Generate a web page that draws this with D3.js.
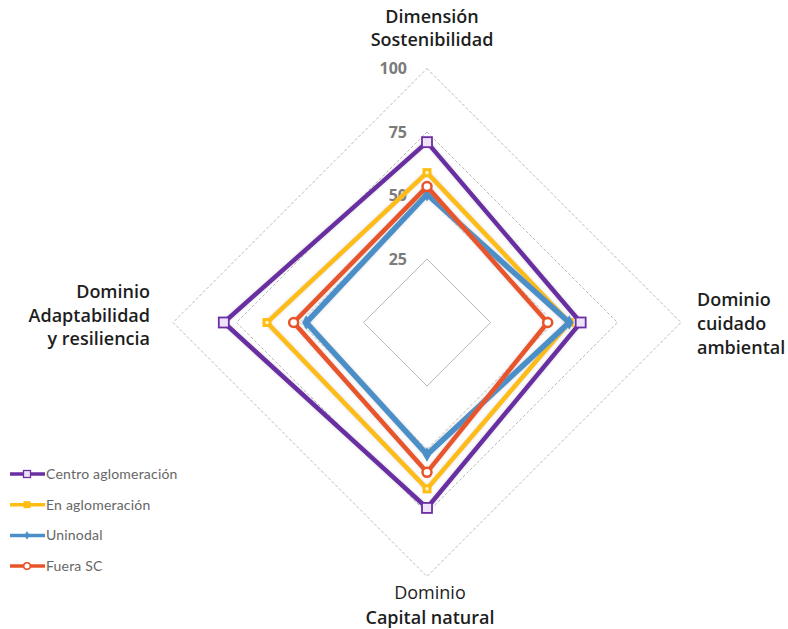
<!DOCTYPE html>
<html>
<head>
<meta charset="utf-8">
<script src="https://cdn.jsdelivr.net/npm/d3@7"></script>
<style>
  body { margin: 0; background: #fff; }
  svg { font-family: "Open Sans", "Noto Sans", sans-serif; }
</style>
</head>
<body>
<svg id="chart"></svg>
<script>
// axes, clockwise from top
const axes = [
  ["Dimensión", "Sostenibilidad"],
  ["Dominio", "cuidado", "ambiental"],
  ["Dominio", "Capital natural"],
  ["Dominio", "Adaptabilidad", "y resiliencia"]
]
const ticks = [25, 50, 75, 100]
const seriesNames = ["Centro aglomeración", "En aglomeración", "Uninodal", "Fuera SC"]
const centro = [71, 60.5, 73, 80]
const enAglo = [59, 56, 65.5, 63]
const uninodal = [50.5, 56, 52, 47.5]
const fuera = [53.5, 47.5, 59, 52.5]
const colors = ["#6b2fa3", "#fdbd13", "#4c8fc8", "#e8542a"]

const width = 788, height = 629
const cx = 427, cy = 322.5
const svg = d3.select("#chart").attr("width", width).attr("height", height)

const r = d3.scaleLinear().domain([0, 100]).range([0, 254])
const angle = i => i * Math.PI / 2 - Math.PI / 2
function pt(v, i) {
  return [cx + r(v) * Math.cos(angle(i)), cy + r(v) * Math.sin(angle(i))]
}

const defs = svg.append("defs")
const f = defs.append("filter").attr("id", "glow").attr("x", "-10%").attr("y", "-10%").attr("width", "120%").attr("height", "120%")
f.append("feDropShadow").attr("dx", 0).attr("dy", 0).attr("stdDeviation", 1.6)
  .attr("flood-color", "#999").attr("flood-opacity", 0.4)

// grid
const grid = svg.append("g")
ticks.forEach(t => {
  grid.append("polygon")
    .attr("points", axes.map((a, i) => pt(t, i).join(",")).join(" "))
    .attr("fill", "none")
    .attr("stroke", "#b9b9b9")
    .attr("stroke-width", 1)
    .attr("stroke-dasharray", t == 25 ? null : "3,2")
})

// tick labels
grid.selectAll("text")
  .data(ticks)
  .enter()
  .append("text")
  .attr("x", cx - 20)
  .attr("y", d => cy - r(d))
  .attr("dy", "0.35em")
  .attr("text-anchor", "end")
  .attr("fill", "#7b7b7b")
  .attr("font-size", 16)
  .attr("font-weight", "bold")
  .text(d => d)

// series: line then markers, one series at a time
const data = [centro, enAglo, uninodal, fuera]
const line = d3.line().curve(d3.curveLinearClosed)
const sg = svg.append("g")
data.forEach((vals, k) => {
  const pts = vals.map((v, i) => pt(v, i))
  const g = sg.append("g")
  g.append("path")
    .attr("d", line(pts))
    .attr("fill", "none")
    .attr("stroke", colors[k])
    .attr("stroke-width", k == 2 ? 5.5 : 4.5)
    .attr("stroke-linejoin", "miter")
    .attr("filter", "url(#glow)")
  pts.forEach(p => drawMarker(g, k, p))
})

function drawMarker(g, k, p) {
  if (k == 0) {
    g.append("rect").attr("x", p[0] - 5).attr("y", p[1] - 5).attr("width", 10).attr("height", 10)
      .attr("fill", "#efe3fa").attr("stroke", colors[0]).attr("stroke-width", 1.8)
  } else if (k == 1) {
    g.append("rect").attr("x", p[0] - 4.5).attr("y", p[1] - 4.5).attr("width", 9).attr("height", 9)
      .attr("fill", colors[1])
    g.append("circle").attr("cx", p[0]).attr("cy", p[1]).attr("r", 1.8).attr("fill", "#fff3c4")
  } else if (k == 2) {
    g.append("path").attr("d", d3.symbol(d3.symbolDiamond, 60)())
      .attr("transform", `translate(${p[0]},${p[1]})`).attr("fill", colors[2])
  } else {
    g.append("circle").attr("cx", p[0]).attr("cy", p[1]).attr("r", 4.5)
      .attr("fill", "#fff").attr("stroke", colors[3]).attr("stroke-width", 2.5)
  }
}

// axis labels
const lab = svg.append("g").attr("fill", "#1e1e1e").attr("font-size", 18)
const labPos = [
  {x: 432, y: 17, anchor: "middle", step: 23},
  {x: 697, y: 300, anchor: "start", step: 24},
  {x: 430, y: 593, anchor: "middle", step: 25},
  {x: 150, y: 292, anchor: "end", step: 23.5}
]
axes.forEach((lines, i) => {
  const p = labPos[i]
  lines.forEach((s, j) => {
    lab.append("text")
      .attr("x", p.x)
      .attr("y", p.y + j * p.step)
      .attr("dy", "0.35em")
      .attr("text-anchor", p.anchor)
      .attr("font-weight", (i == 2 && j == 0) ? 500 : 600)
      .text(s)
  })
})

// legend
const leg = svg.append("g")
seriesNames.forEach((name, k) => {
  const y = 474 + k * 30.7
  leg.append("line").attr("x1", 10).attr("x2", 45).attr("y1", y).attr("y2", y)
    .attr("stroke", colors[k]).attr("stroke-width", 3.5)
  drawSmallMarker(leg, k, [27, y])
  leg.append("text").attr("x", 46).attr("y", y).attr("dy", "0.35em")
    .attr("font-family", "Lato, sans-serif")
    .attr("font-size", 14).attr("letter-spacing", 0.2)
    .attr("fill", "#666").text(name)
})

function drawSmallMarker(g, k, p) {
  if (k == 0) {
    g.append("rect").attr("x", p[0] - 3.5).attr("y", p[1] - 3.5).attr("width", 7).attr("height", 7)
      .attr("fill", "#efe3fa").attr("stroke", colors[0]).attr("stroke-width", 1.3)
  } else if (k == 1) {
    g.append("rect").attr("x", p[0] - 3.5).attr("y", p[1] - 3.5).attr("width", 7).attr("height", 7)
      .attr("fill", colors[1])
  } else if (k == 2) {
    g.append("path").attr("d", d3.symbol(d3.symbolDiamond, 22)())
      .attr("transform", `translate(${p[0]},${p[1]})`).attr("fill", colors[2])
  } else {
    g.append("circle").attr("cx", p[0]).attr("cy", p[1]).attr("r", 3.3)
      .attr("fill", "#fff").attr("stroke", colors[3]).attr("stroke-width", 1.6)
  }
}
</script>
</body>
</html>
